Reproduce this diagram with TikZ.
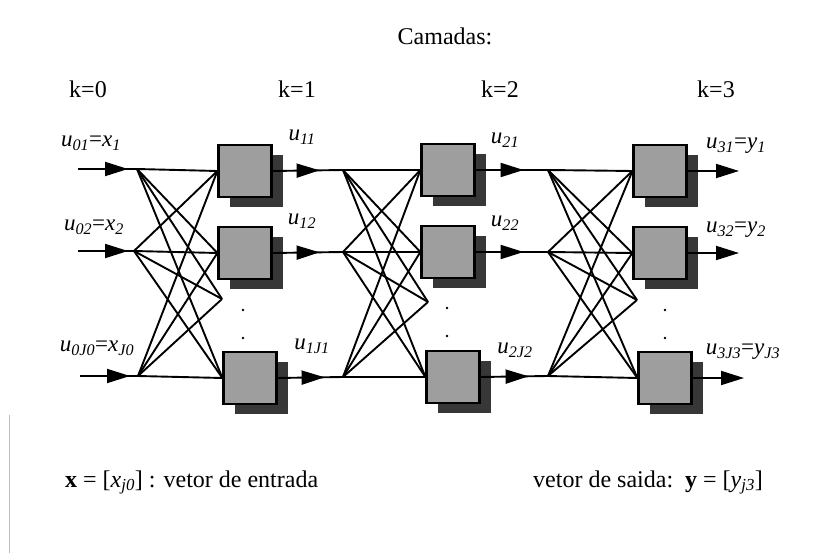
\documentclass[tikz,border=0pt]{standalone}
\usepackage{fontspec}
\setmainfont{Liberation Serif}
\usetikzlibrary{arrows.meta,shadows,decorations.markings}
\definecolor{boxgray}{RGB}{158,158,158}
\definecolor{shadowgray}{RGB}{55,55,55}
\newcommand\ulab[2]{\textit{#1}\textsubscript{\textit{#2}}}
\tikzset{
  wire/.style={line width=1.9pt},
  neuron/.style={draw, line width=2.2pt, fill=boxgray, minimum width=53pt, minimum height=52pt, inner sep=0pt,
    general shadow={fill=shadowgray, shadow xshift=11pt, shadow yshift=-10pt}},
  midarrow/.style={postaction={decorate}, decoration={markings, mark=at position #1 with {\arrow{Triangle[length=23pt,width=14pt]}}}},
  endarrow/.style={-{Triangle[length=23pt,width=14pt]}},
  bigtext/.style={font=\fontsize{24}{28}\selectfont, inner sep=0pt},
  lbltext/.style={font=\fontsize{23}{27}\selectfont, inner sep=0pt},
  dotmark/.style={circle, fill=black, inner sep=0pt, minimum size=2.8pt}
}
\begin{document}
\begin{tikzpicture}[x=1pt,y=-1pt]
\useasboundingbox (0,0) rectangle (817,553);
\fill[white] (0,0) rectangle (817,553);
\draw[gray!50, line width=1pt] (9,415) -- (9,553);

% top texts
\node[bigtext, anchor=base] (cam) at (445,45) {Camadas:};
\node[bigtext, anchor=base] (k0) at (88,98) {k=0};
\node[bigtext, anchor=base] (k1) at (297,98) {k=1};
\node[bigtext, anchor=base] (k2) at (500,98) {k=2};
\node[bigtext, anchor=base] (k3) at (716,98) {k=3};

% input starts and layer-0 branch points
\coordinate (s1) at (78,169);
\coordinate (s2) at (78,251);
\coordinate (s3) at (80,376);
\coordinate (p01) at (137,169);
\coordinate (p02) at (134,251);
\coordinate (p03) at (138,376);

% layer 1
\node[neuron] (b11) at (245,171) {};
\node[neuron] (b12) at (245,253) {};
\node[neuron] (b13) at (250,378) {};
\coordinate (t1) at (222,299);
\coordinate (p11) at (343,170);
\coordinate (p12) at (343,252);
\coordinate (p13) at (343,377);

% layer 2
\node[neuron] (b21) at (448,170) {};
\node[neuron] (b22) at (448,252) {};
\node[neuron] (b23) at (453,377) {};
\coordinate (t2) at (428,302);
\coordinate (p21) at (548,170);
\coordinate (p22) at (548,252);
\coordinate (p23) at (548,376);

% layer 3
\node[neuron] (b31) at (660,171) {};
\node[neuron] (b32) at (660,253) {};
\node[neuron] (b33) at (665,378) {};
\coordinate (t3) at (637,300);
\coordinate (o1) at (739,171);
\coordinate (o2) at (739,253);
\coordinate (o3) at (744,378);

% inputs
\draw[wire, midarrow=50pt] (s1) -- (p01);
\draw[wire, midarrow=50pt] (s2) -- (p02);
\draw[wire, midarrow=50pt] (s3) -- (p03);

% full connections
\foreach \p in {p01,p02,p03} {
  \draw[wire] (\p) -- (b11.west);
  \draw[wire] (\p) -- (b12.west);
  \draw[wire] (\p) -- (t1);
  \draw[wire] (\p) -- (b13.west);
}
\foreach \p in {p11,p12,p13} {
  \draw[wire] (\p) -- (b21.west);
  \draw[wire] (\p) -- (b22.west);
  \draw[wire] (\p) -- (t2);
  \draw[wire] (\p) -- (b23.west);
}
\foreach \p in {p21,p22,p23} {
  \draw[wire] (\p) -- (b31.west);
  \draw[wire] (\p) -- (b32.west);
  \draw[wire] (\p) -- (t3);
  \draw[wire] (\p) -- (b33.west);
}

% outputs between layers
\draw[wire, midarrow=47pt] (b11.east) -- (p11);
\draw[wire, midarrow=47pt] (b12.east) -- (p12);
\draw[wire, midarrow=47pt] (b13.east) -- (p13);
\draw[wire, midarrow=48pt] (b21.east) -- (p21);
\draw[wire, midarrow=48pt] (b22.east) -- (p22);
\draw[wire, midarrow=48pt] (b23.east) -- (p23);
\draw[wire, endarrow] (b31.east) -- (o1);
\draw[wire, endarrow] (b32.east) -- (o2);
\draw[wire, endarrow] (b33.east) -- (o3);

% dots
\node[dotmark] (d11) at (243,310) {};
\node[dotmark] (d12) at (243,338) {};
\node[dotmark] (d21) at (447,308) {};
\node[dotmark] (d22) at (447,336) {};
\node[dotmark] (d31) at (665,310) {};
\node[dotmark] (d32) at (665,338) {};

% labels
\node[lbltext] (l01) at (91,143) {\ulab{u}{01}=\ulab{x}{1}};
\node[lbltext] (l02) at (94,227) {\ulab{u}{02}=\ulab{x}{2}};
\node[lbltext] (l03) at (97,348) {\ulab{u}{0J0}=\ulab{x}{J0}};
\node[lbltext] (l11) at (302,137) {\ulab{u}{11}};
\node[lbltext] (l12) at (302,221) {\ulab{u}{12}};
\node[lbltext] (l13) at (312,346) {\ulab{u}{1J1}};
\node[lbltext] (l21) at (505,140) {\ulab{u}{21}};
\node[lbltext] (l22) at (505,223) {\ulab{u}{22}};
\node[lbltext] (l23) at (515,350) {\ulab{u}{2J2}};
\node[lbltext] (l31) at (736,146) {\ulab{u}{31}=\ulab{y}{1}};
\node[lbltext] (l32) at (736,230) {\ulab{u}{32}=\ulab{y}{2}};
\node[lbltext] (l33) at (743,352) {\ulab{u}{3J3}=\ulab{y}{J3}};

% bottom texts
\node[bigtext, anchor=base west] (xin) at (65,487) {\textbf{x} = [\ulab{x}{j0}] : vetor de entrada};
\node[bigtext, anchor=base west] (yout) at (533,487) {vetor de saida:\ \ \textbf{y} = [\ulab{y}{j3}]};
\end{tikzpicture}
\end{document}
